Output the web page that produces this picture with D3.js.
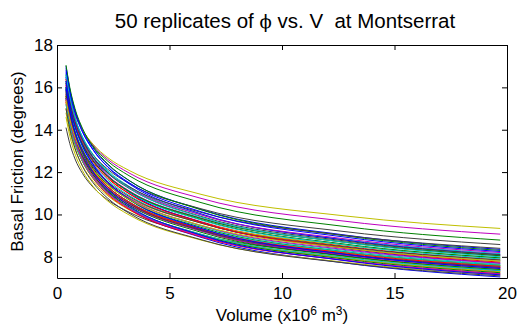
<!DOCTYPE html>
<html lang="en">
<head>
  <meta charset="UTF-8">
  <title>50 replicates of phi vs. V at Montserrat</title>
  <style>
    body {
      margin: 0;
      background: #fff;
      font-family: "Liberation Sans", Arial, sans-serif;
    }
    svg text {
      fill: #000;
    }
  </style>
</head>
<body>
  <div id="chart"></div>

  <script src="https://d3js.org/d3.v7.min.js"></script>
  <script>
    // volume grid (x10^6 m^3) where each replicate is sampled
    const volumes = [0.4, 0.57, 0.8, 1.13, 1.6, 2.26, 3.2, 6.4, 12.8, 19.7];

    // basal friction (degrees) for each of the 50 replicates
    const replicates = [
      [16.9, 15.87, 14.91, 14.01, 13.15, 12.35, 11.60, 10.24, 9.03, 8.35],
      [16.6, 15.69, 14.83, 14.01, 13.24, 12.51, 11.83, 10.56, 9.43, 8.79],
      [16.1, 15.10, 14.17, 13.29, 12.47, 11.70, 10.98, 9.66, 8.50, 7.85],
      [16.5, 15.50, 14.55, 13.67, 12.84, 12.06, 11.33, 9.99, 8.81, 8.15],
      [16.4, 15.56, 14.76, 14.00, 13.28, 12.60, 11.96, 10.76, 9.68, 9.07],
      [16.2, 15.43, 14.69, 13.99, 13.32, 12.68, 12.08, 10.95, 9.93, 9.34],
      [16.0, 15.14, 14.32, 13.55, 12.82, 12.13, 11.47, 10.27, 9.19, 8.58],
      [17.0, 15.92, 14.90, 13.95, 13.06, 12.23, 11.45, 10.03, 8.79, 8.10],
      [17.05, 15.99, 15.00, 14.07, 13.20, 12.38, 11.61, 10.22, 8.99, 8.30],
      [15.7, 14.70, 13.77, 12.89, 12.07, 11.30, 10.59, 9.28, 8.14, 7.50],
      [16.0, 15.01, 14.08, 13.21, 12.39, 11.62, 10.90, 9.60, 8.44, 7.80],
      [16.2, 15.25, 14.35, 13.51, 12.72, 11.97, 11.27, 9.98, 8.85, 8.20],
      [15.3, 14.44, 13.62, 12.85, 12.12, 11.44, 10.79, 9.60, 8.55, 7.95],
      [14.1, 13.34, 12.62, 11.94, 11.29, 10.68, 10.11, 9.04, 8.09, 7.55],
      [16.7, 15.59, 14.55, 13.58, 12.68, 11.84, 11.05, 9.63, 8.39, 7.70],
      [16.2, 15.21, 14.27, 13.40, 12.58, 11.81, 11.08, 9.76, 8.60, 7.95],
      [15.9, 14.85, 13.88, 12.97, 12.11, 11.31, 10.57, 9.23, 8.05, 7.40],
      [15.9, 14.90, 13.96, 13.08, 12.26, 11.49, 10.76, 9.45, 8.30, 7.65],
      [15.8, 14.82, 13.90, 13.04, 12.24, 11.48, 10.77, 9.48, 8.34, 7.70],
      [15.0, 14.12, 13.29, 12.51, 11.78, 11.09, 10.44, 9.25, 8.20, 7.60],
      [15.9, 15.02, 14.19, 13.41, 12.67, 11.97, 11.31, 10.10, 9.01, 8.40],
      [16.5, 15.36, 14.29, 13.30, 12.38, 11.52, 10.72, 9.28, 8.04, 7.35],
      [15.8, 14.80, 13.87, 13.00, 12.18, 11.41, 10.69, 9.39, 8.24, 7.60],
      [15.4, 14.41, 13.49, 12.62, 11.81, 11.05, 10.34, 9.06, 7.93, 7.30],
      [16.3, 15.28, 14.33, 13.44, 12.60, 11.81, 11.07, 9.74, 8.56, 7.90],
      [15.6, 14.61, 13.68, 12.81, 11.99, 11.23, 10.52, 9.22, 8.09, 7.45],
      [14.8, 13.91, 13.08, 12.30, 11.57, 10.88, 10.22, 9.04, 7.99, 7.40],
      [15.7, 14.76, 13.88, 13.05, 12.27, 11.54, 10.85, 9.59, 8.47, 7.85],
      [16.8, 15.77, 14.80, 13.89, 13.05, 12.25, 11.50, 10.13, 8.93, 8.25],
      [15.5, 14.51, 13.59, 12.73, 11.91, 11.15, 10.45, 9.16, 8.03, 7.40],
      [16.4, 15.34, 14.35, 13.42, 12.56, 11.75, 10.99, 9.62, 8.42, 7.75],
      [15.5, 14.55, 13.66, 12.82, 12.03, 11.29, 10.60, 9.34, 8.23, 7.60],
      [16.1, 15.14, 14.23, 13.38, 12.58, 11.83, 11.12, 9.83, 8.69, 8.05],
      [15.2, 14.24, 13.34, 12.50, 11.71, 10.97, 10.28, 9.02, 7.92, 7.30],
      [16.3, 15.32, 14.39, 13.52, 12.71, 11.94, 11.23, 9.91, 8.75, 8.10],
      [15.9, 14.79, 13.76, 12.80, 11.91, 11.08, 10.30, 8.92, 7.71, 7.05],
      [16.0, 15.05, 14.16, 13.32, 12.53, 11.79, 11.09, 9.81, 8.69, 8.05],
      [15.6, 14.63, 13.71, 12.85, 12.05, 11.30, 10.59, 9.31, 8.18, 7.55],
      [16.6, 15.56, 14.58, 13.66, 12.81, 12.01, 11.25, 9.88, 8.68, 8.00],
      [15.4, 14.45, 13.55, 12.71, 11.92, 11.18, 10.49, 9.23, 8.12, 7.50],
      [14.6, 13.70, 12.86, 12.07, 11.33, 10.63, 9.98, 8.79, 7.74, 7.15],
      [15.5, 14.53, 13.62, 12.77, 11.97, 11.22, 10.52, 9.25, 8.13, 7.50],
      [16.3, 15.20, 14.18, 13.23, 12.34, 11.51, 10.73, 9.34, 8.12, 7.45],
      [15.6, 14.57, 13.61, 12.71, 11.88, 11.10, 10.36, 9.04, 7.89, 7.25],
      [15.3, 14.31, 13.38, 12.51, 11.70, 10.94, 10.24, 8.95, 7.83, 7.20],
      [15.2, 14.25, 13.36, 12.52, 11.74, 11.01, 10.32, 9.07, 7.97, 7.35],
      [15.5, 14.48, 13.52, 12.63, 11.80, 11.02, 10.30, 8.98, 7.84, 7.20],
      [15.4, 14.50, 13.65, 12.85, 12.09, 11.38, 10.71, 9.49, 8.41, 7.80],
      [15.0, 14.03, 13.13, 12.28, 11.50, 10.76, 10.06, 8.81, 7.71, 7.10],
      [16.0, 14.89, 13.87, 12.91, 12.02, 11.19, 10.41, 9.02, 7.82, 7.15]
    ];

    const xTicks = [0, 5, 10, 15, 20];
    const yTicks = [8, 10, 12, 14, 16, 18];

    // old matlab line colour order: b g r c m y k
    const lineColors = ["#0000ff", "#008000", "#ff0000", "#00bfbf", "#bf00bf", "#bfbf00", "#404040"];

    const width = 529, height = 328;
    const margin = { top: 45, right: 22, bottom: 50, left: 57 };
    const fontFamily = "Liberation Sans, Arial, sans-serif";
    const axisFont = "17px";

    const svg = d3.select("#chart").append("svg")
      .attr("width", width)
      .attr("height", height);

    const x = d3.scaleLinear()
      .domain([0, 20])
      .range([margin.left, width - margin.right]);

    const y = d3.scaleLinear()
      .domain([7, 18])
      .range([height - margin.bottom, margin.top]);

    svg.append("clipPath")
      .attr("id", "plot-area")
      .append("rect")
      .attr("x", x(0))
      .attr("y", y(18))
      .attr("width", x(20) - x(0))
      .attr("height", y(7) - y(18));

    const line = d3.line()
      .x((d, i) => x(volumes[i]))
      .y(d => y(d))
      .curve(d3.curveMonotoneX);

    svg.append("g")
      .attr("clip-path", "url(#plot-area)")
      .selectAll("path")
      .data(replicates)
      .enter()
      .append("path")
      .attr("d", line)
      .attr("fill", "none")
      .attr("stroke", (d, i) => lineColors[i % lineColors.length])
      .attr("stroke-width", 1);

    // axes, matlab style: ticks point inward, box on
    const tickLen = 5;

    svg.append("g")
      .attr("transform", `translate(0,${y(7)})`)
      .call(d3.axisBottom(x).tickValues(xTicks).tickSizeInner(-tickLen).tickSizeOuter(0).tickPadding(9))
      .call(g => g.selectAll("text").attr("font-size", axisFont).attr("font-family", fontFamily));

    svg.append("g")
      .attr("transform", `translate(0,${y(18)})`)
      .call(d3.axisTop(x).tickValues(xTicks).tickSizeInner(-tickLen).tickSizeOuter(0).tickFormat(""));

    svg.append("g")
      .attr("transform", `translate(${x(0)},0)`)
      .call(d3.axisLeft(y).tickValues(yTicks).tickSizeInner(-tickLen).tickSizeOuter(0).tickPadding(4))
      .call(g => g.selectAll("text").attr("font-size", axisFont).attr("font-family", fontFamily));

    svg.append("g")
      .attr("transform", `translate(${x(20)},0)`)
      .call(d3.axisRight(y).tickValues(yTicks).tickSizeInner(-tickLen).tickSizeOuter(0).tickFormat(""));

    svg.selectAll(".domain").attr("stroke", "#000");
    svg.selectAll(".tick line").attr("stroke", "#000");

    // title
    const title = svg.append("text")
      .attr("x", 285)
      .attr("y", 28)
      .attr("text-anchor", "middle")
      .attr("font-family", fontFamily)
      .attr("font-size", "20.5px");
    title.append("tspan").text("50 replicates of ");
    title.append("tspan").attr("font-family", "DejaVu Serif, serif").attr("font-size", "18px").text("\u03d5");
    title.append("tspan").text(" vs. V\u00a0 at Montserrat");

    // x label with superscripts
    const xLabel = svg.append("text")
      .attr("x", (x(0) + x(20)) / 2)
      .attr("y", 321)
      .attr("text-anchor", "middle")
      .attr("font-family", fontFamily)
      .attr("font-size", axisFont);
    xLabel.append("tspan").text("Volume (x10");
    xLabel.append("tspan").attr("dy", -6).attr("font-size", "12px").text("6");
    xLabel.append("tspan").attr("dy", 6).text(" m");
    xLabel.append("tspan").attr("dy", -6).attr("font-size", "12px").text("3");
    xLabel.append("tspan").attr("dy", 6).text(")");

    svg.append("text")
      .attr("transform", `translate(23,${(y(7) + y(18)) / 2}) rotate(-90)`)
      .attr("text-anchor", "middle")
      .attr("font-family", fontFamily)
      .attr("font-size", axisFont)
      .text("Basal Friction (degrees)");
  </script>
</body>
</html>
